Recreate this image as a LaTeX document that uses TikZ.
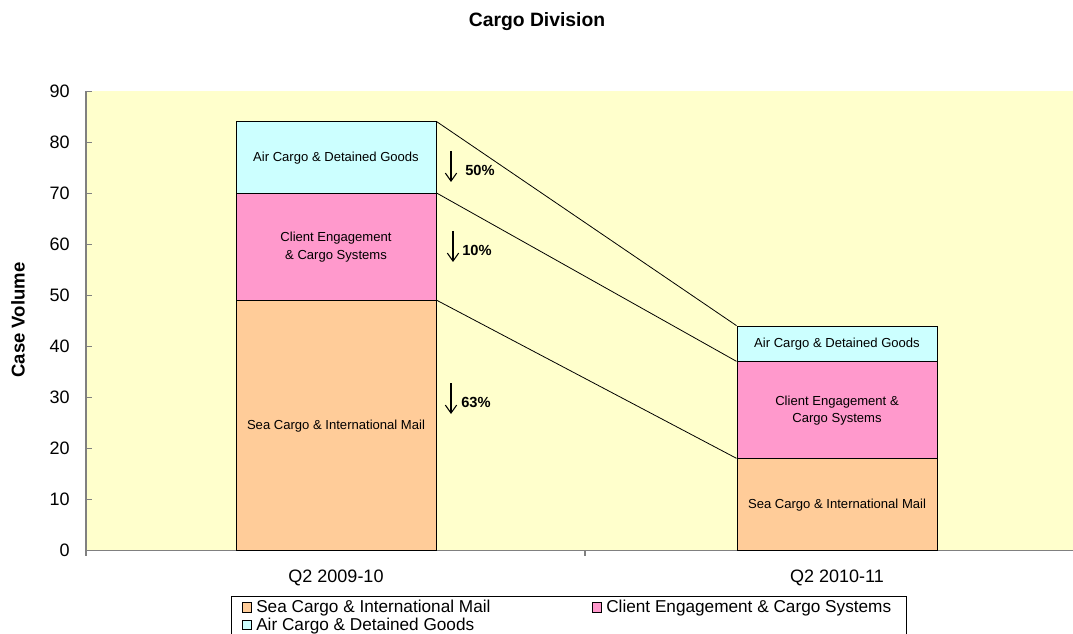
\documentclass[tikz,border=0pt]{standalone}
\usepackage{fontspec}
\setmainfont{Liberation Sans}
\usetikzlibrary{arrows.meta}
\definecolor{bg}{HTML}{FFFFCC}
\definecolor{sea}{HTML}{FFCC99}
\definecolor{cli}{HTML}{FF99CC}
\definecolor{air}{HTML}{CCFFFF}
\definecolor{axisgray}{HTML}{808080}
\begin{document}
\begin{tikzpicture}[x=0.75pt,y=-0.75pt,
  seg/.style={draw=black,line width=0.7pt,inner sep=0pt,align=center,
    font=\fontsize{9.8}{13}\selectfont,minimum width=150pt},
  tick/.style={anchor=east,inner sep=0pt,font=\fontsize{13.5}{15}\selectfont},
  cat/.style={inner sep=0pt,font=\fontsize{13.5}{15}\selectfont},
  pct/.style={anchor=west,inner sep=0pt,font=\bfseries\fontsize{11}{13}\selectfont},
  downarrow/.style={line width=0.8pt,-{Straight Barb[length=6pt,width=8.5pt,line width=0.8pt]}},
  leg/.style={anchor=base west,inner sep=0pt,font=\fontsize{12.9}{15}\selectfont},
  legbox/.style={draw=black,line width=0.6pt,minimum size=7pt,inner sep=0pt}]
\useasboundingbox (0,0) rectangle (1073,634);
\clip (0,0) rectangle (1073,634);
% plot area
\fill[bg] (86,91) rectangle (1073,550.7);
% title and axis title
\node[font=\bfseries\fontsize{14.5}{16}\selectfont] (title) at (537,22) {Cargo Division};
\node[rotate=90,font=\bfseries\fontsize{13.9}{16}\selectfont] (ytitle) at (18,320) {Case Volume};
% axes
\draw[axisgray,line width=0.8pt] (86,91) -- (86,556);
\draw[axisgray,line width=0.8pt] (86,550.7) -- (1073,550.7);
\draw[axisgray,line width=0.8pt] (585,550.7) -- (585,556);
\foreach \v in {0,10,...,90}{
  \draw[axisgray,line width=0.8pt] (86,{550.7-5.104*\v}) -- (92,{550.7-5.104*\v});
  \node[tick] (t\v) at (70,{550.7-5.104*\v}) {\v};
}
% bars 2009-10
\node[seg,fill=sea,minimum height=187.6pt] (s1) at (336,425.65) {Sea Cargo \& International Mail};
\node[seg,fill=cli,minimum height=80.4pt] (c1) at (336,247.0) {Client Engagement\\\& Cargo Systems};
\node[seg,fill=air,minimum height=53.6pt] (a1) at (336,157.7) {Air Cargo \& Detained Goods};
% bars 2010-11
\node[seg,fill=sea,minimum height=68.9pt] (s2) at (837,504.75) {Sea Cargo \& International Mail};
\node[seg,fill=cli,minimum height=72.7pt] (c2) at (837,410.3) {Client Engagement \&\\Cargo Systems};
\node[seg,fill=air,minimum height=26.8pt] (a2) at (837,344.0) {Air Cargo \& Detained Goods};
% connectors
\draw[line width=0.6pt] (a1.north east) -- (a2.north west);
\draw[line width=0.6pt] (c1.north east) -- (c2.north west);
\draw[line width=0.6pt] (s1.north east) -- (s2.north west);
% change arrows
\coordinate (ar1a) at (451,151); \coordinate (ar1b) at (451,182);
\coordinate (ar2a) at (453,231); \coordinate (ar2b) at (453,262);
\coordinate (ar3a) at (451,383); \coordinate (ar3b) at (451,414);
\draw[downarrow] (ar1a) -- (ar1b);
\draw[downarrow] (ar2a) -- (ar2b);
\draw[downarrow] (ar3a) -- (ar3b);
\node[pct] (p1) at (465,170) {50\%};
\node[pct] (p2) at (462,250) {10\%};
\node[pct] (p3) at (461,402) {63\%};
% category labels
\node[cat] (q1) at (336,578) {Q2 2009-10};
\node[cat] (q2) at (837,578) {Q2 2010-11};
% legend
\draw[line width=0.6pt,fill=white] (231,596.5) rectangle (906,660);
\node[legbox,fill=sea] (l1) at (247,607.5) {};
\node[leg] (lt1) at (256,612.5) {Sea Cargo \& International Mail};
\node[legbox,fill=cli] (l2) at (597,607.5) {};
\node[leg] (lt2) at (606,612.5) {Client Engagement \& Cargo Systems};
\node[legbox,fill=air] (l3) at (247,625) {};
\node[leg] (lt3) at (256,630) {Air Cargo \& Detained Goods};
\end{tikzpicture}
\end{document}
